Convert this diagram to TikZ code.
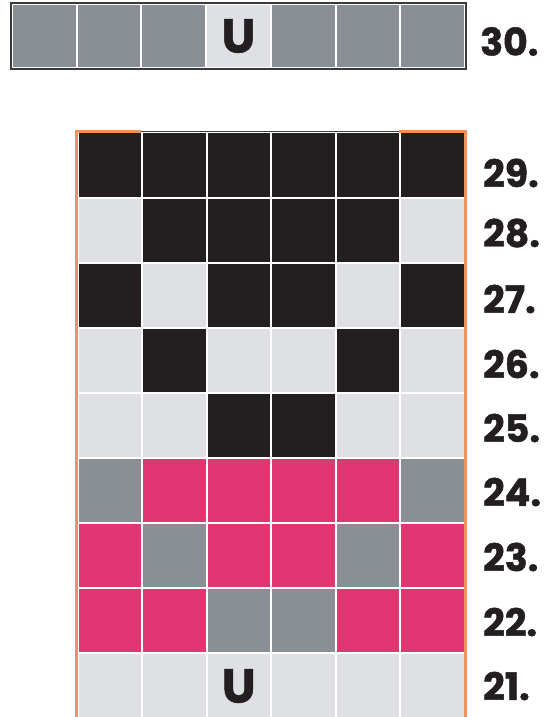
\documentclass[tikz,border=0pt]{standalone}
\usepackage{fontspec}
\newfontfamily\labfont{Poppins}[UprightFont=* Bold, FakeBold=1.2]
\definecolor{cK}{HTML}{231F20}
\definecolor{cL}{HTML}{DFE0E4}
\definecolor{cU}{HTML}{DFE0E4}
\definecolor{cG}{HTML}{8A8E95}
\definecolor{cP}{HTML}{E03773}
\definecolor{cO}{HTML}{F5905A}
\definecolor{cB}{HTML}{3A3A3C}
\begin{document}
\begin{tikzpicture}[x=1bp,y=-1bp,
  cell/.style={draw=white, line width=2bp, inner sep=0pt, minimum width=64.5bp, minimum height=65bp},
  topcell/.style={draw=white, line width=2bp, inner sep=0pt, minimum width=64.7bp, minimum height=64bp},
  rowlabel/.style={anchor=west, inner sep=0pt, font=\labfont\fontsize{38}{38}\selectfont, text=cK},
  letter/.style={inner sep=0pt, font=\labfont\fontsize{48}{48}\selectfont, text=cK},
  orangeedge/.style={draw=cO, line width=3.5bp},
  darkedge/.style={draw=cB, line width=1.2bp}]
\useasboundingbox (0,0) rectangle (553,717);

% top bar
\foreach \c [count=\j from 0] in {G,G,G,U,G,G,G}
  \node[topcell, fill=c\c] (t\j) at ({12+64.7*(\j+0.5)},36) {};
\node[letter] (tu) at (t3.center) {U};
\draw[darkedge] (t0.north west) rectangle (t6.south east);
\node[rowlabel] (l30) at (480,41.5) {30.};

% main grid
\foreach \row/\off/\pat [count=\i from 0] in {
  29/8/{K,K,K,K,K,K},
  28/3/{L,K,K,K,K,L},
  27/4/{K,L,K,K,L,K},
  26/4/{L,K,L,L,K,L},
  25/3/{L,L,K,K,L,L},
  24/2/{G,P,P,P,P,G},
  23/2/{P,G,P,P,G,P},
  22/2/{P,P,G,G,P,P},
  21/1/{L,L,U,L,L,L}}{
  \foreach \c [count=\j from 0] in \pat
    \node[cell, fill=c\c] (m\row-\j) at ({77.5+64.5*(\j+0.5)},{132.5+65*(\i+0.5)}) {};
  \node[rowlabel] (l\row) at (483,{132.5+65*(\i+0.5)+\off}) {\row.};
}
\node[letter] (bu) at ([yshift=-1bp]m21-2.center) {U};

% borders
\draw[darkedge] (m29-1.north west) -- (m29-5.north west);
\draw[darkedge] (m21-0.south west) -- (m21-5.south west);
\draw[orangeedge] (m21-0.south west) -- (m29-0.north west) -- (m29-1.north west);
\draw[orangeedge] (m29-5.north west) -- (m29-5.north east) -- (m21-5.south east) -- (m21-5.south west);
\end{tikzpicture}
\end{document}
